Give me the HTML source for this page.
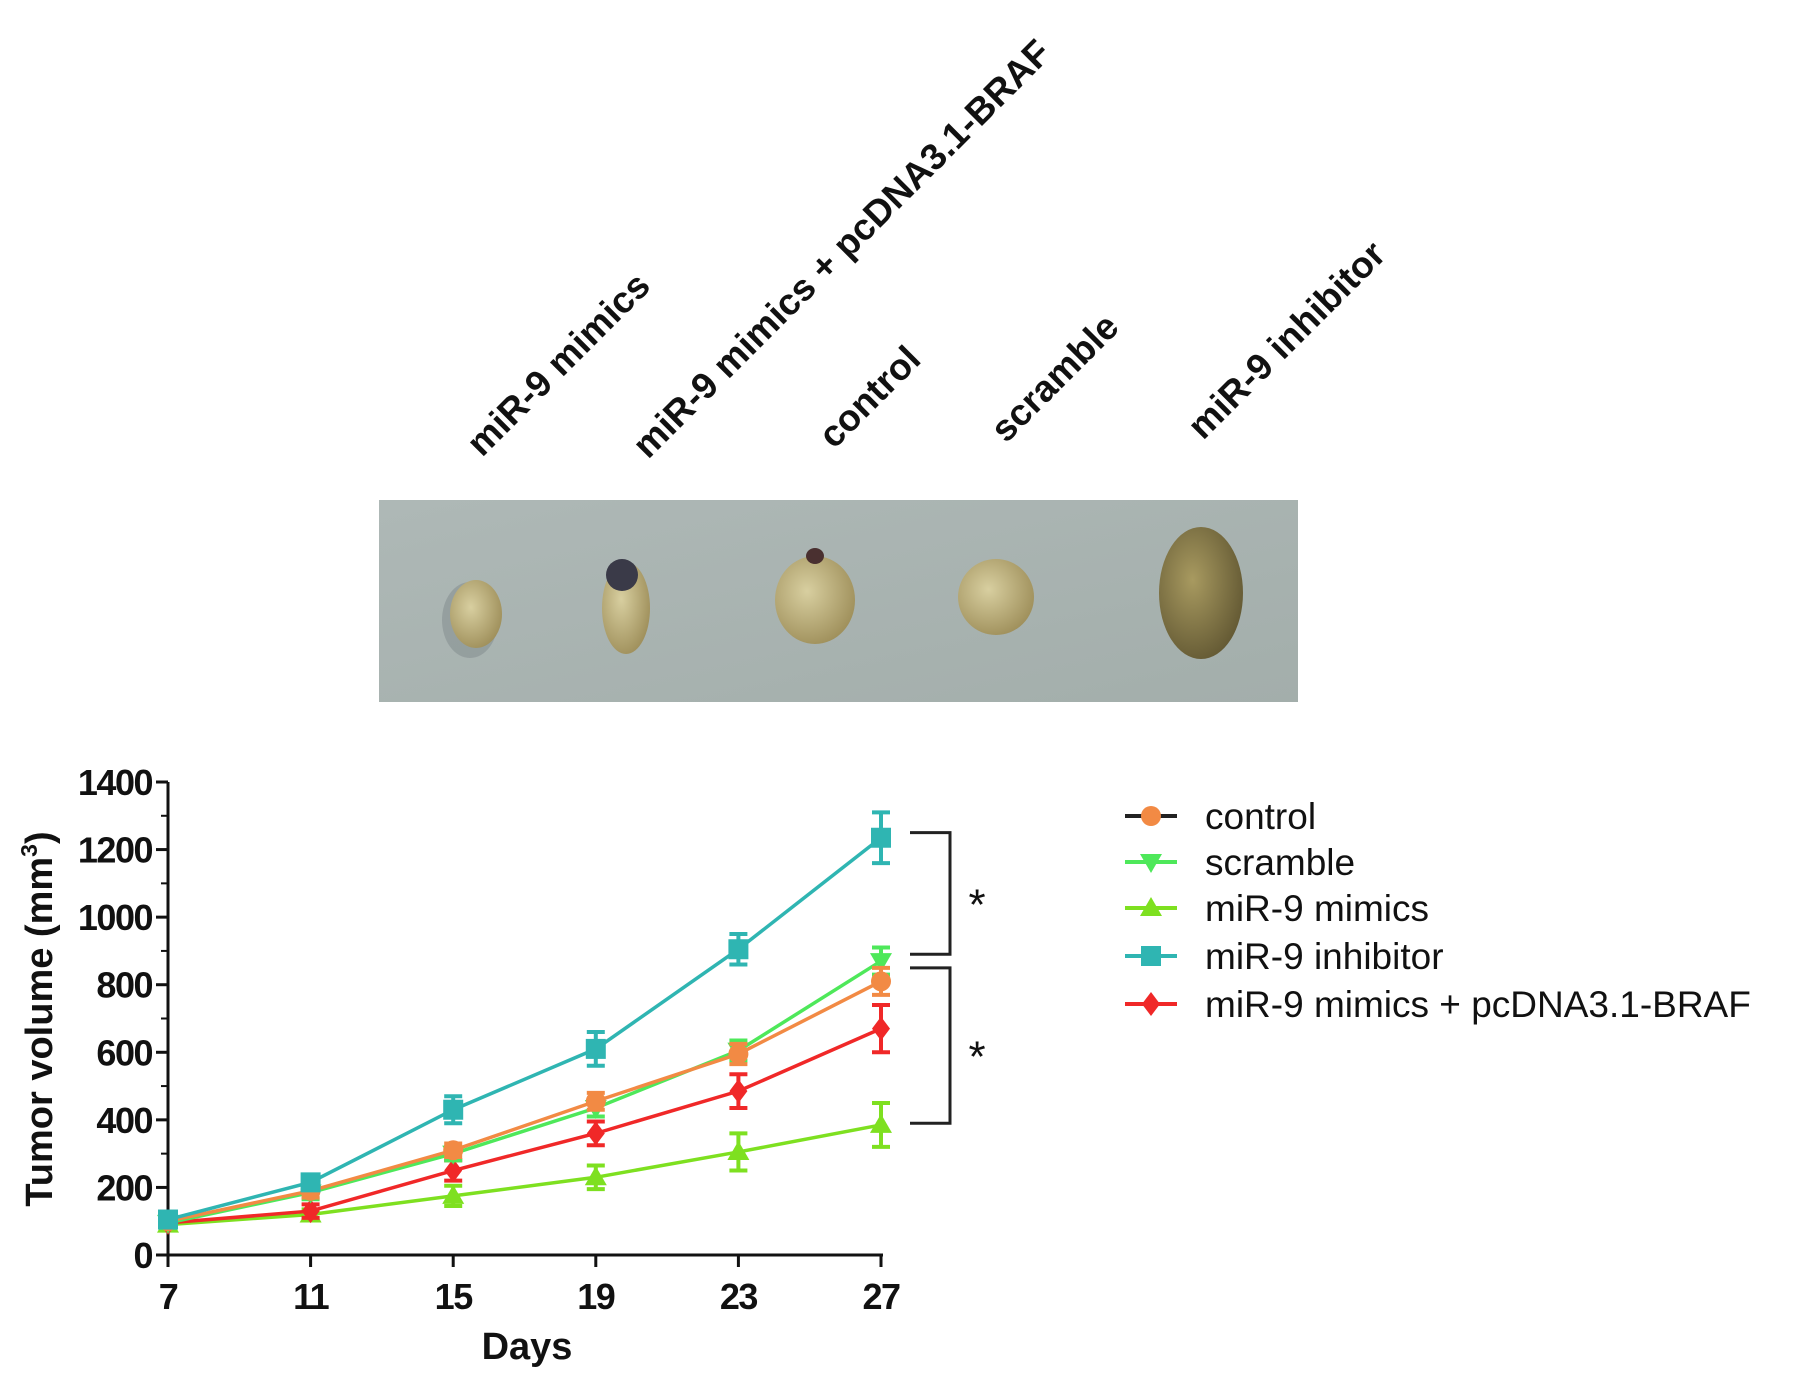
<!DOCTYPE html>
<html><head><meta charset="utf-8"><style>
body{margin:0;background:#fff}
svg{display:block;font-family:"Liberation Sans",Arial,sans-serif}
</style></head><body>
<svg id="fig" width="1795" height="1384" viewBox="0 0 1795 1384">
<defs>
<linearGradient id="bg" x1="0" y1="0" x2="1" y2="1">
<stop offset="0" stop-color="#aeb8b6"/><stop offset="1" stop-color="#a3aeab"/>
</linearGradient>
<radialGradient id="tum" cx="0.4" cy="0.4" r="0.7">
<stop offset="0" stop-color="#d8cfa0"/><stop offset="1" stop-color="#9a8a55"/>
</radialGradient>
<radialGradient id="tum2" cx="0.4" cy="0.4" r="0.7">
<stop offset="0" stop-color="#a89a60"/><stop offset="1" stop-color="#5e5430"/>
</radialGradient>
</defs>
<g font-weight="bold" font-size="37" fill="#111">
<text transform="translate(482,458) rotate(-45)">miR-9 mimics</text>
<text transform="translate(648,460) rotate(-45)">miR-9 mimics + pcDNA3.1-BRAF</text>
<text transform="translate(834,450) rotate(-45)">control</text>
<text transform="translate(1006,444) rotate(-45)">scramble</text>
<text transform="translate(1203,441) rotate(-45)">miR-9 inhibitor</text>
</g>
<g>
<rect x="379" y="500" width="919" height="202" fill="url(#bg)"/>
<ellipse cx="470" cy="620" rx="28" ry="38" fill="#7f8a8c" opacity="0.5"/>
<ellipse cx="476" cy="614" rx="26" ry="34" fill="url(#tum)"/>
<ellipse cx="626" cy="608" rx="24" ry="46" fill="url(#tum)"/>
<ellipse cx="622" cy="575" rx="16" ry="16" fill="#3a3a48"/>
<ellipse cx="815" cy="600" rx="40" ry="44" fill="url(#tum)"/>
<ellipse cx="815" cy="556" rx="9" ry="8" fill="#4a3030"/>
<ellipse cx="996" cy="597" rx="38" ry="38" fill="url(#tum)"/>
<ellipse cx="1201" cy="593" rx="42" ry="66" fill="url(#tum2)"/>
</g>
<g id="chart"></g>
</svg>
<script>
const days = [7, 11, 15, 19, 23, 27];
const yTicks = [0, 200, 400, 600, 800, 1000, 1200, 1400];
const seriesNames = ["control", "scramble", "miR-9 mimics", "miR-9 inhibitor", "miR-9 mimics + pcDNA3.1-BRAF"];
const controlVals = [100, 190, 310, 455, 595, 810];
const scrambleVals = [95, 185, 300, 435, 605, 870];
const mimicsVals = [90, 120, 175, 230, 305, 385];
const inhibitorVals = [105, 215, 430, 610, 905, 1235];
const brafVals = [95, 130, 250, 360, 485, 670];
const controlErr = [15, 20, 20, 25, 30, 40];
const scrambleErr = [15, 20, 20, 25, 30, 40];
const mimicsErr = [12, 15, 30, 35, 55, 65];
const inhibitorErr = [15, 20, 40, 50, 45, 75];
const brafErr = [12, 20, 30, 35, 50, 70];

const NS = "http://www.w3.org/2000/svg";
const g = document.getElementById("chart");
const X0 = 168, X1 = 881, Y0 = 1255, Y1 = 782;
function xs(d){ return X0 + (d - 7) / 20 * (X1 - X0); }
function ys(v){ return Y0 - v / 1400 * (Y0 - Y1); }
function mk(tag, attrs, parent){
  const e = document.createElementNS(NS, tag);
  for (const k in attrs) e.setAttribute(k, attrs[k]);
  (parent || g).appendChild(e);
  return e;
}
let e = mk("line", {x1:X0, y1:Y1, x2:X0, y2:Y0+2, stroke:"#111", "stroke-width":3});


e = mk("line", {x1:X0-2, y1:Y0, x2:X1+2, y2:Y0, stroke:"#111", "stroke-width":3});


yTicks.forEach(function(t){
  const y = ys(t);
  mk("line", {x1:X0-12, y1:y, x2:X0, y2:y, stroke:"#111", "stroke-width":3});
  if (t < 1400) mk("line", {x1:X0-7, y1:ys(t+100), x2:X0, y2:ys(t+100), stroke:"#111", "stroke-width":2});
  const tx = mk("text", {x:X0-16, y:y+13, "text-anchor":"end", "font-size":36, "font-weight":"bold", fill:"#111", "letter-spacing":"-1.5"});
  tx.textContent = t;
  
  
});
days.forEach(function(d){
  const x = xs(d);
  mk("line", {x1:x, y1:Y0, x2:x, y2:Y0+12, stroke:"#111", "stroke-width":3});
  const tx = mk("text", {x:x, y:Y0+54, "text-anchor":"middle", "font-size":36, "font-weight":"bold", fill:"#111", "letter-spacing":"-1.5"});
  tx.textContent = d;
  
  
});
e = mk("text", {x:527, y:1359, "text-anchor":"middle", "font-size":38, "font-weight":"bold", fill:"#111"});
e.textContent = "Days";


e = mk("text", {transform:"translate(52,1019) rotate(-90)", "text-anchor":"middle", "font-size":38, "font-weight":"bold", fill:"#111"});
e.innerHTML = 'Tumor volume (mm<tspan font-size="23" dy="-15">3</tspan><tspan dy="15">)</tspan>';



const colors = ["#f28a44", "#4ee85a", "#7ee020", "#2fb5b2", "#f02828"];
const shapes = ["circle", "tri-down", "tri-up", "square", "diamond"];
const vals = [controlVals, scrambleVals, mimicsVals, inhibitorVals, brafVals];
const errs = [controlErr, scrambleErr, mimicsErr, inhibitorErr, brafErr];
function marker(shape, x, y, c, s, parent){
  if (shape === "circle") return mk("circle", {cx:x, cy:y, r:s, fill:c}, parent);
  if (shape === "square") return mk("rect", {x:x-s, y:y-s, width:2*s, height:2*s, fill:c}, parent);
  if (shape === "tri-up") return mk("polygon", {points:(x-s*1.1)+","+(y+s*0.8)+" "+(x+s*1.1)+","+(y+s*0.8)+" "+x+","+(y-s*1.1), fill:c}, parent);
  if (shape === "tri-down") return mk("polygon", {points:(x-s*1.1)+","+(y-s*0.8)+" "+(x+s*1.1)+","+(y-s*0.8)+" "+x+","+(y+s*1.1), fill:c}, parent);
  return mk("polygon", {points:x+","+(y-s*1.2)+" "+(x+s*0.9)+","+y+" "+x+","+(y+s*1.2)+" "+(x-s*0.9)+","+y, fill:c}, parent);
}
[2,4,1,0,3].forEach(function(i){
  const sg = mk("g", {});
  
  
  const pts = days.map(function(d, j){ return xs(d)+","+ys(vals[i][j]); }).join(" ");
  mk("polyline", {points:pts, fill:"none", stroke:colors[i], "stroke-width":3.5}, sg);
  days.forEach(function(d, j){
    const x = xs(d), v = vals[i][j], er = errs[i][j];
    mk("line", {x1:x, y1:ys(v+er), x2:x, y2:ys(v-er), stroke:colors[i], "stroke-width":4}, sg);
    mk("line", {x1:x-9, y1:ys(v+er), x2:x+9, y2:ys(v+er), stroke:colors[i], "stroke-width":4}, sg);
    mk("line", {x1:x-9, y1:ys(v-er), x2:x+9, y2:ys(v-er), stroke:colors[i], "stroke-width":4}, sg);
    const m = marker(shapes[i], x, ys(v), colors[i], 10, sg);
    
    
  });
});
function bracket(a, b, name){
  const bg = mk("g", {});
  
  
  mk("polyline", {points:"910,"+ys(a)+" 950,"+ys(a)+" 950,"+ys(b)+" 910,"+ys(b), fill:"none", stroke:"#222", "stroke-width":3}, bg);
  const st = mk("text", {x:977, y:(ys(a)+ys(b))/2+26, "text-anchor":"middle", "font-size":44, fill:"#111"}, bg);
  st.textContent = "*";
}
bracket(1250, 890, "significance-bracket-top");
bracket(850, 390, "significance-bracket-bottom");
const lg = mk("g", {});


const legY = [816, 862, 908, 956, 1004];
seriesNames.forEach(function(n, i){
  const eg = mk("g", {}, lg);
  
  
  const y = legY[i];
  mk("line", {x1:1125, y1:y, x2:1177, y2:y, stroke: i===0 ? "#222" : colors[i], "stroke-width":4}, eg);
  marker(shapes[i], 1151, y, colors[i], 10, eg);
  const t = mk("text", {x:1205, y:y+13, "font-size":37, fill:"#111"}, eg);
  t.textContent = n;
});
</script>
</body></html>
